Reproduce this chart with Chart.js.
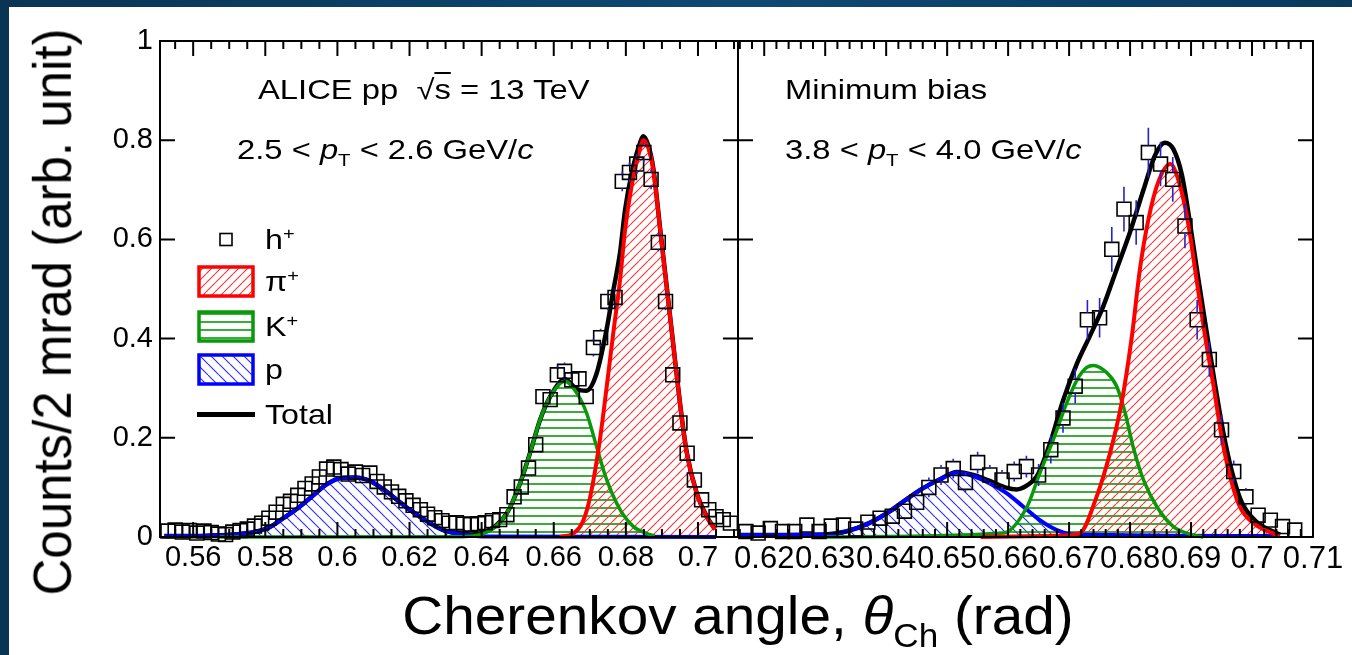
<!DOCTYPE html>
<html>
<head>
<meta charset="utf-8">
<script src="https://cdn.jsdelivr.net/npm/chart.js@4.4.1/dist/chart.umd.min.js"></script>
<style>
  html, body { margin: 0; padding: 0; }
  body {
    width: 1352px; height: 655px; overflow: hidden; position: relative;
    background: linear-gradient(90deg, #0a3454, #0d4a73 55%, #0a3a5e);
    font-family: 'Liberation Sans', Arial, sans-serif;
  }
  #sheet { position: absolute; left: 9px; top: 7px; right: 0; bottom: 0; background: #fff; }
  canvas.plot { position: absolute; left: 0; top: 0; }
  .txt { position: absolute; color: #000; white-space: nowrap; line-height: 1; }
  .wide { transform-origin: 0 50%; transform: scaleX(1.17); }
  .sub { font-size: 62%; position: relative; top: 0.38em; }
  .sup { font-size: 62%; position: relative; top: -0.55em; }
  .legend-row { position: absolute; left: 197px; display: flex; align-items: center; }
  .legend-row canvas { display: block; }
  .legend-row > span { margin-left: 10px; font-size: 28px; line-height: 1; transform-origin: 0 50%; transform: scaleX(1.15); }
</style>
</head>
<body>
<div id="sheet"></div>
<canvas id="leftPanel" class="plot" width="1352" height="655"></canvas>
<canvas id="rightPanel" class="plot" width="1352" height="655"></canvas>

<div class="txt" style="left:52px; top:312px; font-size:51px; transform: translate(-50%, -50%) rotate(-90deg) scaleY(1.06);">Counts/2 mrad (arb. unit)</div>
<div class="txt" style="left:738px; top:588px; font-size:54px; transform: translateX(-50%) scaleX(1.05);">Cherenkov angle, <i>θ</i><span class="sub">Ch</span> (rad)</div>

<div class="txt wide" style="left:258px; top:76px; font-size:28px;">ALICE pp &nbsp;√<span style="text-decoration: overline;">s</span> = 13 TeV</div>
<div class="txt wide" style="left:237px; top:136px; font-size:28px;">2.5 &lt; <i>p</i><span class="sub">T</span> &lt; 2.6 GeV/<i>c</i></div>
<div class="txt wide" style="left:785px; top:76px; font-size:28px;">Minimum bias</div>
<div class="txt wide" style="left:785px; top:136px; font-size:28px;">3.8 &lt; <i>p</i><span class="sub">T</span> &lt; 4.0 GeV/<i>c</i></div>

<div class="legend-row" style="top:223px;"><canvas id="legH" width="58" height="33"></canvas><span>h<span class="sup">+</span></span></div>
<div class="legend-row" style="top:265px;"><canvas id="legPi" width="58" height="33"></canvas><span>π<span class="sup">+</span></span></div>
<div class="legend-row" style="top:310px;"><canvas id="legK" width="58" height="33"></canvas><span>K<span class="sup">+</span></span></div>
<div class="legend-row" style="top:353px;"><canvas id="legP" width="58" height="33"></canvas><span>p</span></div>
<div class="legend-row" style="top:398px;"><canvas id="legTot" width="58" height="33"></canvas><span>Total</span></div>

<script>
// ---- axis ticks ----
const yTickValues = [0, 0.2, 0.4, 0.6, 0.8, 1];
const yTickLabels = ['0', '0.2', '0.4', '0.6', '0.8', '1'];
const leftTickValues = [0.56, 0.58, 0.6, 0.62, 0.64, 0.66, 0.68, 0.7];
const leftTickLabels = ['0.56', '0.58', '0.6', '0.62', '0.64', '0.66', '0.68', '0.7'];
const rightTickValues = [0.62, 0.63, 0.64, 0.65, 0.66, 0.67, 0.68, 0.69, 0.7, 0.71];
const rightTickLabels = ['0.62', '0.63', '0.64', '0.65', '0.66', '0.67', '0.68', '0.69', '0.7', '0.71'];

// ---- left panel: 2.5 < pT < 2.6 GeV/c ----
const leftBinX = [
  0.553, 0.555, 0.557, 0.559, 0.561, 0.563, 0.565, 0.567, 0.569, 0.571, 0.573, 0.575, 0.577, 0.579, 0.581, 0.583,
  0.585, 0.587, 0.589, 0.591, 0.593, 0.595, 0.597, 0.599, 0.601, 0.603, 0.605, 0.607, 0.609, 0.611, 0.613, 0.615,
  0.617, 0.619, 0.621, 0.623, 0.625, 0.627, 0.629,
  0.631, 0.633, 0.635, 0.637, 0.639, 0.641, 0.643, 0.645, 0.647,
  0.649, 0.651, 0.653, 0.655, 0.657, 0.659, 0.661, 0.663, 0.665, 0.667, 0.669,
  0.671, 0.673, 0.675, 0.677, 0.679, 0.681, 0.683, 0.685, 0.687, 0.689, 0.691,
  0.693, 0.695, 0.697, 0.699, 0.701, 0.703, 0.705, 0.707, 0.709
];
const leftCounts = [
  0.012, 0.014, 0.010, 0.013, 0.008, 0.012, 0.009, 0.006, 0.005, 0.010, 0.013, 0.016, 0.022, 0.028, 0.038, 0.050,
  0.066, 0.072, 0.084, 0.098, 0.107, 0.121, 0.137, 0.141, 0.136, 0.127, 0.131, 0.124, 0.129, 0.112, 0.101, 0.091,
  0.082, 0.073, 0.064, 0.055, 0.046, 0.039, 0.033,
  0.028, 0.029, 0.026, 0.025, 0.027, 0.029, 0.033, 0.035, 0.045,
  0.081, 0.101, 0.139, 0.186, 0.283, 0.277, 0.327, 0.334, 0.317, 0.319, 0.283,
  0.382, 0.402, 0.475, 0.483, 0.717, 0.735, 0.752, 0.775, 0.721, 0.594, 0.475,
  0.327, 0.230, 0.169, 0.115, 0.075, 0.055, 0.041, 0.035, 0.028
];
const leftErrors = [
  0.005, 0.005, 0.005, 0.005, 0.005, 0.005, 0.005, 0.005, 0.005, 0.005, 0.005, 0.005, 0.005, 0.005, 0.005, 0.005,
  0.008, 0.008, 0.008, 0.008, 0.008, 0.008, 0.008, 0.008, 0.008, 0.008, 0.008, 0.008, 0.008, 0.008, 0.008, 0.008,
  0.008, 0.008, 0.008, 0.008, 0.008, 0.008, 0.008,
  0.006, 0.006, 0.006, 0.006, 0.006, 0.006, 0.006, 0.006, 0.006,
  0.012, 0.012, 0.012, 0.012, 0.012, 0.012, 0.018, 0.018, 0.012, 0.012, 0.012,
  0.018, 0.018, 0.018, 0.018, 0.020, 0.020, 0.020, 0.020, 0.020, 0.018, 0.018,
  0.010, 0.010, 0.010, 0.010, 0.010, 0.010, 0.010, 0.010, 0.010
];
const leftPionX = [0.6617, 0.6654, 0.668, 0.6701, 0.6728, 0.6747, 0.6765, 0.6784, 0.6798, 0.6816, 0.6839, 0.6848,
  0.6862, 0.6876, 0.6895, 0.6913, 0.6932, 0.6950, 0.6969, 0.6996, 0.7024, 0.7047];
const leftPionY = [0, 0.007, 0.030, 0.081, 0.196, 0.304, 0.411, 0.519, 0.620, 0.708, 0.782, 0.800,
  0.785, 0.741, 0.620, 0.506, 0.384, 0.270, 0.169, 0.089, 0.041, 0.015];
const leftKaonX = [0.567, 0.633, 0.6375, 0.6404, 0.644, 0.647, 0.6507, 0.6534, 0.6562, 0.659, 0.6631, 0.6664,
  0.6691, 0.6719, 0.6747, 0.6784, 0.6821, 0.6858, 0.688];
const leftKaonY = [0, 0.0005, 0.002, 0.007, 0.022, 0.048, 0.109, 0.169, 0.236, 0.283, 0.314, 0.290,
  0.250, 0.182, 0.115, 0.055, 0.021, 0.007, 0.002];
const leftProtonX = [0.552, 0.557, 0.561, 0.565, 0.569, 0.573, 0.577, 0.581, 0.585, 0.589, 0.593, 0.597, 0.601,
  0.605, 0.609, 0.613, 0.617, 0.621, 0.625, 0.629, 0.633, 0.637, 0.641, 0.705];
const leftProtonY = [0.002, 0.002, 0.002, 0.003, 0.004, 0.006, 0.010, 0.019, 0.038, 0.058, 0.082, 0.106, 0.119,
  0.120, 0.113, 0.095, 0.072, 0.050, 0.031, 0.015, 0.007, 0.003, 0.001, 0];
const leftTotalX = [0.552, 0.557, 0.561, 0.565, 0.569, 0.573, 0.577, 0.581, 0.585, 0.589, 0.593, 0.597, 0.601,
  0.605, 0.609, 0.613, 0.617, 0.621, 0.625, 0.629, 0.633, 0.637, 0.6404, 0.644, 0.647, 0.6507, 0.6534, 0.6562,
  0.659, 0.6631, 0.6664, 0.6691, 0.6719, 0.6747, 0.6765, 0.6784, 0.6798, 0.6816, 0.6839, 0.6848, 0.6862, 0.6876,
  0.6895, 0.6913, 0.6932, 0.6950, 0.6969, 0.6996, 0.7024, 0.7047];
const leftTotalY = [0.002, 0.002, 0.002, 0.003, 0.004, 0.006, 0.010, 0.019, 0.038, 0.058, 0.082, 0.106, 0.119,
  0.120, 0.113, 0.095, 0.072, 0.050, 0.031, 0.015, 0.008, 0.005, 0.009, 0.023, 0.048, 0.109, 0.169, 0.236,
  0.283, 0.318, 0.298, 0.295, 0.330, 0.420, 0.496, 0.574, 0.660, 0.733, 0.794, 0.808, 0.790, 0.744,
  0.622, 0.507, 0.385, 0.271, 0.170, 0.090, 0.042, 0.016];

// ---- right panel: 3.8 < pT < 4.0 GeV/c ----
const rightBinX = [
  0.617, 0.619, 0.621, 0.623, 0.625, 0.627, 0.629, 0.631, 0.633, 0.635, 0.637, 0.639, 0.641, 0.643,
  0.645, 0.647, 0.649, 0.651, 0.653, 0.655, 0.657, 0.659, 0.661, 0.663, 0.665,
  0.667, 0.669, 0.671, 0.673, 0.675, 0.677, 0.679, 0.681, 0.683, 0.685, 0.687, 0.689, 0.691, 0.693, 0.695, 0.697, 0.699,
  0.701, 0.703, 0.705, 0.707
];
const rightCounts = [
  0.011, 0.008, 0.017, 0.011, 0.011, 0.024, 0.011, 0.022, 0.024, 0.016, 0.030, 0.038, 0.042, 0.052,
  0.070, 0.100, 0.125, 0.138, 0.110, 0.150, 0.125, 0.115, 0.132, 0.142, 0.125,
  0.176, 0.240, 0.304, 0.438, 0.442, 0.580, 0.661, 0.634, 0.775, 0.752, 0.721, 0.627, 0.438, 0.358, 0.216, 0.132, 0.081,
  0.044, 0.034, 0.021, 0.014
];
const rightErrors = [
  0.010, 0.010, 0.010, 0.010, 0.010, 0.010, 0.010, 0.010, 0.010, 0.010, 0.010, 0.010, 0.010, 0.010,
  0.018, 0.020, 0.020, 0.020, 0.020, 0.022, 0.020, 0.020, 0.020, 0.022, 0.022,
  0.028, 0.030, 0.035, 0.040, 0.040, 0.045, 0.045, 0.045, 0.050, 0.045, 0.045, 0.045, 0.040, 0.035, 0.030, 0.022, 0.018,
  0.012, 0.010, 0.008, 0.008
];
const rightPionX = [0.6555, 0.669, 0.6718, 0.6745, 0.6767, 0.6786, 0.6803, 0.6816, 0.6830, 0.6846, 0.6866, 0.6882,
  0.6896, 0.6909, 0.6923, 0.6937, 0.6950, 0.6964, 0.6980, 0.7002, 0.7035, 0.7046];
const rightPionY = [0, 0.003, 0.008, 0.081, 0.169, 0.270, 0.405, 0.539, 0.640, 0.715, 0.752, 0.708,
  0.627, 0.519, 0.405, 0.304, 0.203, 0.122, 0.061, 0.028, 0.007, 0.003];
const rightKaonX = [0.630, 0.6592, 0.6631, 0.6652, 0.6674, 0.6696, 0.6713, 0.6729, 0.6740, 0.6762, 0.6778, 0.6792,
  0.6805, 0.6822, 0.6844, 0.6871, 0.6904, 0.692];
const rightKaonY = [0, 0.008, 0.061, 0.129, 0.196, 0.270, 0.317, 0.342, 0.346, 0.331, 0.304, 0.250,
  0.182, 0.115, 0.061, 0.021, 0.004, 0];
const rightProtonX = [0.6157, 0.6301, 0.6334, 0.6372, 0.6405, 0.6432, 0.6460, 0.6489, 0.6516, 0.6543, 0.6570,
  0.6598, 0.6625, 0.6652, 0.6680, 0.6707, 0.7046];
const rightProtonY = [0.004, 0.005, 0.011, 0.028, 0.051, 0.075, 0.098, 0.117, 0.130, 0.123, 0.108,
  0.088, 0.061, 0.034, 0.014, 0.005, 0.002];
const rightTotalX = [0.6157, 0.6301, 0.6334, 0.6372, 0.6405, 0.6432, 0.6460, 0.6489, 0.6516, 0.6543, 0.6570,
  0.6598, 0.6614, 0.6631, 0.6647, 0.6669, 0.6690, 0.6713, 0.6734, 0.6756, 0.6778, 0.6800, 0.6822, 0.6841,
  0.6857, 0.6871, 0.6885, 0.6898, 0.6912, 0.6926, 0.6939, 0.6953, 0.6967, 0.6983, 0.7008, 0.7040, 0.7046];
const rightTotalY = [0.004, 0.005, 0.011, 0.028, 0.051, 0.075, 0.098, 0.117, 0.131, 0.125, 0.113,
  0.099, 0.096, 0.104, 0.122, 0.190, 0.275, 0.350, 0.405, 0.465, 0.540, 0.615, 0.700, 0.770,
  0.795, 0.782, 0.730, 0.635, 0.520, 0.410, 0.310, 0.210, 0.132, 0.070, 0.030, 0.008, 0.005];

// ---- styling helpers ----
const FONT = "'Liberation Sans', Arial, sans-serif";

function hatch(kind, color, size, width) {
  const c = document.createElement('canvas');
  c.width = size;
  c.height = size;
  const g = c.getContext('2d');
  g.strokeStyle = color;
  g.lineWidth = width;
  g.beginPath();
  if (kind === 'horizontal') {
    g.moveTo(0, size / 2);
    g.lineTo(size, size / 2);
  } else if (kind === 'forward') {
    for (const o of [-size, 0, size]) { g.moveTo(o, size); g.lineTo(o + size, 0); }
  } else {
    for (const o of [-size, 0, size]) { g.moveTo(o, 0); g.lineTo(o + size, size); }
  }
  g.stroke();
  return g.createPattern(c, 'repeat');
}

const RED = '#ff0000', GREEN = '#08990a', BLUE = '#0000ff', ERR = '#2424c8';
const redHatch = hatch('forward', '#ff3030', 9, 1.1);
const greenHatch = hatch('horizontal', GREEN, 8, 1.6);
const blueHatch = hatch('back', '#2a2aff', 11, 1.1);

const pts = (xs, ys) => xs.map((x, i) => ({ x: x, y: ys[i] }));

function curve(label, xs, ys, color, pattern, width) {
  return {
    label: label,
    data: pts(xs, ys),
    borderColor: color,
    borderWidth: width,
    backgroundColor: pattern,
    fill: pattern ? 'origin' : false,
    pointRadius: 0,
    cubicInterpolationMode: 'monotone',
    clip: { left: 0, top: 0, right: 0, bottom: 2 }
  };
}

// vertical error bars, drawn outside the open square marker
const errorBars = {
  id: 'errorBars',
  afterDatasetsDraw(chart) {
    const { ctx, chartArea: a, scales: { x, y } } = chart;
    chart.data.datasets.forEach(ds => {
      if (!ds.errors) return;
      ctx.save();
      ctx.beginPath();
      ctx.rect(a.left, a.top, a.right - a.left, a.bottom - a.top);
      ctx.clip();
      ctx.strokeStyle = ERR;
      ctx.lineWidth = 1.6;
      ctx.beginPath();
      ds.data.forEach((p, i) => {
        const px = x.getPixelForValue(p.x);
        const py = y.getPixelForValue(p.y);
        const hi = y.getPixelForValue(p.y + ds.errors[i]);
        const lo = y.getPixelForValue(p.y - ds.errors[i]);
        const h = 7;
        if (hi < py - h) { ctx.moveTo(px, hi); ctx.lineTo(px, py - h); }
        if (lo > py + h) { ctx.moveTo(px, py + h); ctx.lineTo(px, lo); }
      });
      ctx.stroke();
      ctx.restore();
    });
  }
};

// ROOT-like frame with inward ticks on all four sides
const frame = {
  id: 'frame',
  afterDatasetsDraw(chart, args, opts) {
    const { ctx, chartArea: a, scales: { x, y } } = chart;
    ctx.save();
    ctx.strokeStyle = '#000';
    ctx.lineWidth = 2;
    ctx.beginPath();
    opts.major.forEach(v => {
      const px = x.getPixelForValue(v);
      ctx.moveTo(px, a.bottom); ctx.lineTo(px, a.bottom - 15);
      ctx.moveTo(px, a.top); ctx.lineTo(px, a.top + 15);
    });
    const k0 = Math.ceil(x.min / opts.minor - 1e-6);
    const k1 = Math.floor(x.max / opts.minor + 1e-6);
    for (let k = k0; k <= k1; k++) {
      const px = x.getPixelForValue(k * opts.minor);
      ctx.moveTo(px, a.bottom); ctx.lineTo(px, a.bottom - 8);
      ctx.moveTo(px, a.top); ctx.lineTo(px, a.top + 8);
    }
    yTickValues.forEach(v => {
      const py = y.getPixelForValue(v);
      ctx.moveTo(a.left, py); ctx.lineTo(a.left + 15, py);
      ctx.moveTo(a.right, py); ctx.lineTo(a.right - 15, py);
    });
    ctx.stroke();
    ctx.strokeRect(a.left, a.top, a.right - a.left, a.bottom - a.top);
    ctx.restore();
  }
};

function makePanel(id, p) {
  return new Chart(document.getElementById(id), {
    type: 'line',
    data: {
      datasets: [
        {
          label: 'h+',
          data: pts(p.binX, p.counts),
          errors: p.errors,
          showLine: false,
          pointStyle: 'rect',
          pointRadius: 9.8,
          pointBorderWidth: 1.6,
          pointBorderColor: '#000',
          pointBackgroundColor: 'rgba(0,0,0,0)',
          borderColor: '#000',
          clip: false
        },
        curve('π+', p.piX, p.piY, RED, redHatch, 4),
        curve('K+', p.kX, p.kY, GREEN, greenHatch, 3.5),
        curve('p', p.prX, p.prY, BLUE, blueHatch, 4),
        curve('Total', p.totX, p.totY, '#000', null, 4.5)
      ]
    },
    options: {
      responsive: false,
      animation: false,
      events: [],
      layout: { padding: p.padding },
      plugins: {
        legend: { display: false },
        tooltip: { enabled: false },
        filler: { drawTime: 'beforeDatasetsDraw' },
        frame: { major: p.tickValues, minor: p.minor }
      },
      scales: {
        x: {
          type: 'linear',
          min: p.xMin,
          max: p.xMax,
          afterBuildTicks: ax => { ax.ticks = p.tickValues.map(v => ({ value: v })); },
          afterFit: s => { s.height = 118; },
          grid: { display: false, drawTicks: false },
          border: { display: false },
          ticks: {
            autoSkip: false,
            maxRotation: 0,
            padding: 4,
            color: '#000',
            font: { family: FONT, size: p.tickSize },
            callback: (v, i) => p.tickLabels[i]
          }
        },
        y: {
          type: 'linear',
          min: 0,
          max: 1,
          display: p.showY,
          afterBuildTicks: ax => { ax.ticks = yTickValues.map(v => ({ value: v })); },
          afterFit: s => { s.width = p.showY ? 160 : 0; },
          grid: { display: false, drawTicks: false },
          border: { display: false },
          ticks: {
            padding: 7,
            color: '#000',
            font: { family: FONT, size: 29 },
            callback: (v, i) => yTickLabels[i]
          }
        }
      }
    },
    plugins: [errorBars, frame]
  });
}

makePanel('leftPanel', {
  binX: leftBinX, counts: leftCounts, errors: leftErrors,
  piX: leftPionX, piY: leftPionY, kX: leftKaonX, kY: leftKaonY,
  prX: leftProtonX, prY: leftProtonY, totX: leftTotalX, totY: leftTotalY,
  xMin: 0.5508, xMax: 0.7111, tickValues: leftTickValues, tickLabels: leftTickLabels, minor: 0.005,
  tickSize: 29, showY: true, padding: { left: 0, top: 41, right: 614, bottom: 0 }
});

makePanel('rightPanel', {
  binX: rightBinX, counts: rightCounts, errors: rightErrors,
  piX: rightPionX, piY: rightPionY, kX: rightKaonX, kY: rightKaonY,
  prX: rightProtonX, prY: rightProtonY, totX: rightTotalX, totY: rightTotalY,
  xMin: 0.6157, xMax: 0.71, tickValues: rightTickValues, tickLabels: rightTickLabels, minor: 0.002,
  tickSize: 31, showY: false, padding: { left: 738, top: 41, right: 39, bottom: 0 }
});

// ---- legend icons ----
function hatchBox(id, color, pattern) {
  const g = document.getElementById(id).getContext('2d');
  g.fillStyle = pattern;
  g.fillRect(2, 2, 54, 29);
  g.strokeStyle = color;
  g.lineWidth = 3.5;
  g.strokeRect(2, 2, 54, 29);
}
(function () {
  const h = document.getElementById('legH').getContext('2d');
  h.strokeStyle = '#000';
  h.lineWidth = 1.6;
  h.strokeRect(23, 10.5, 12, 12);
  hatchBox('legPi', RED, redHatch);
  hatchBox('legK', GREEN, greenHatch);
  hatchBox('legP', BLUE, blueHatch);
  const t = document.getElementById('legTot').getContext('2d');
  t.fillStyle = '#000';
  t.fillRect(0, 14, 58, 5);
})();
</script>
</body>
</html>
